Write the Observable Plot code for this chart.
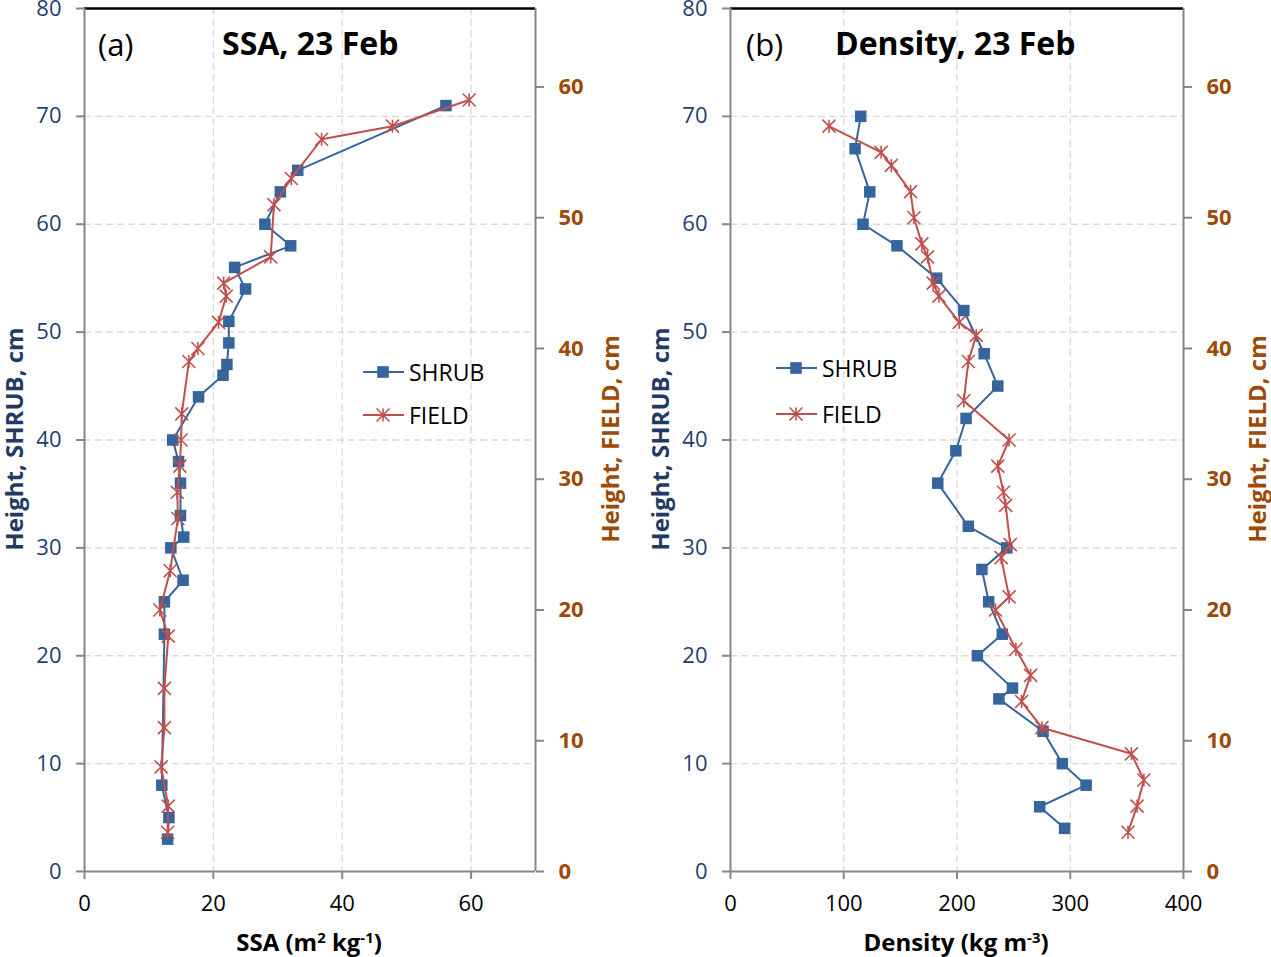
<!DOCTYPE html>
<html>
<head>
<meta charset="utf-8">
<script src="https://cdn.jsdelivr.net/npm/d3@7"></script>
<script src="https://cdn.jsdelivr.net/npm/@observablehq/plot@0.6"></script>
<style>
  body { margin: 0; background: #fff; font-family: "Open Sans", sans-serif; }
  #wrap { position: relative; width: 1271px; height: 957px; overflow: hidden; background: #fff; }
  .panel { position: absolute; top: 0; }
  .t { position: absolute; white-space: nowrap; line-height: 1; }
  .sup { font-size: 0.62em; position: relative; top: -0.55em; }
</style>
</head>
<body>
<div id="wrap"></div>
<script>
// ---------- data ----------
const yTicks = [0, 10, 20, 30, 40, 50, 60, 70, 80];
const fieldTicks = [0, 10, 20, 30, 40, 50, 60];
const xTicksA = [0, 20, 40, 60];
const xTicksB = [0, 100, 200, 300, 400];

// (a) SSA
const shrubA_h   = [3, 5, 8, 22, 25, 27, 30, 31, 33, 36, 38, 40, 44, 46, 47, 49, 51, 54, 56, 58, 60, 63, 65, 71];
const shrubA_ssa = [12.9, 13.1, 12.0, 12.4, 12.4, 15.3, 13.4, 15.4, 14.9, 14.9, 14.6, 13.7, 17.7, 21.5, 22.1, 22.4, 22.4, 25.0, 23.3, 32.0, 28.0, 30.4, 33.1, 56.1];
const fieldA_h   = [3, 5, 8, 11, 14, 18, 20, 23, 27, 29, 31, 33, 35, 39, 40, 42, 44, 45, 47, 51, 53, 56, 57, 59];
const fieldA_ssa = [12.9, 13.0, 11.9, 12.4, 12.4, 13.0, 11.7, 13.3, 14.5, 14.4, 14.8, 15.0, 15.1, 16.2, 17.6, 20.8, 22.0, 21.6, 28.9, 29.4, 32.1, 36.8, 47.8, 59.7];

// (b) Density
const shrubB_h   = [4, 6, 8, 10, 13, 16, 17, 20, 22, 25, 28, 30, 32, 36, 39, 42, 45, 48, 52, 55, 58, 60, 63, 67, 70];
const shrubB_den = [295, 273, 314, 293, 276, 237, 249, 218, 240, 228, 222, 244, 210, 183, 199, 208, 236, 224, 206, 182, 147, 117, 123, 110, 115];
const fieldB_h   = [3, 5, 7, 9, 11, 13, 15, 17, 20, 21, 24, 25, 28, 29, 31, 33, 36, 39, 41, 42, 44, 45, 47, 48, 50, 52, 54, 55, 57];
const fieldB_den = [351, 359, 365, 354, 275, 257, 265, 252, 234, 246, 239, 247, 243, 241, 236, 246, 206, 210, 217, 202, 184, 179, 174, 169, 162, 159, 142, 133, 87];

const SHRUB_MAX = 80, FIELD_MAX = 66;
const K = SHRUB_MAX / FIELD_MAX; // secondary axis mapping

// ---------- styles ----------
const BLUE = "#36649d";
const RED = "#c0504d";
const AXIS = "#868686";
const GRID = "#d9d9d9";
const LEFT_TXT = "#1f3f6f";
const RIGHT_TXT = "#9c4a06";

const asterisk = {
  draw(ctx, size) {
    const h = Math.sqrt(size / Math.PI);
    ctx.moveTo(-h, -h); ctx.lineTo(h, h);
    ctx.moveTo(-h, h); ctx.lineTo(h, -h);
    ctx.moveTo(0, -h); ctx.lineTo(0, h);
  }
};

function panel({xmax, xTicks, sh, sv, fh, fv, width, ml, mr}) {
  const shrub = sh.map((h, i) => ({h, v: sv[i]}));
  const field = fh.map((h, i) => ({h, v: fv[i]}));
  const gridStyle = {stroke: GRID, strokeOpacity: 1, strokeWidth: 1.3, strokeDasharray: "7,4"};
  return Plot.plot({
    width, height: 957,
    marginLeft: ml, marginRight: mr, marginTop: 8, marginBottom: 86,
    style: {fontFamily: "'Open Sans', sans-serif", background: "transparent", overflow: "visible"},
    x: {domain: [0, xmax]},
    y: {domain: [0, SHRUB_MAX]},
    marks: [
      Plot.gridX(xTicks.filter(t => t > 0 && t < xmax), gridStyle),
      Plot.gridY(yTicks.filter(t => t > 0 && t < SHRUB_MAX), gridStyle),
      Plot.ruleY([SHRUB_MAX], {stroke: "#000", strokeWidth: 2.5}),
      Plot.ruleX([0], {stroke: AXIS, strokeWidth: 2}),
      Plot.ruleX([xmax], {stroke: AXIS, strokeWidth: 2}),
      Plot.ruleY([0], {stroke: AXIS, strokeWidth: 2}),
      Plot.axisX(xTicks, {tickSize: 8, tickPadding: 16, stroke: AXIS, strokeWidth: 2, fill: "#000", fontSize: 22, label: null}),
      Plot.axisY(yTicks, {anchor: "left", tickSize: 8, tickPadding: 15, stroke: AXIS, strokeWidth: 2, fill: LEFT_TXT, fontSize: 22, label: null}),
      Plot.axisY(fieldTicks.map(t => t * K), {anchor: "right", tickSize: 8, tickPadding: 15, stroke: AXIS, strokeWidth: 2,
        fill: RIGHT_TXT, fontSize: 22, fontWeight: "bold", label: null, tickFormat: d => String(Math.round(d / K))}),
      Plot.line(shrub, {x: "v", y: "h", stroke: BLUE, strokeWidth: 2}),
      Plot.dot(shrub, {x: "v", y: "h", symbol: "square", r: 6.5, fill: BLUE, stroke: "none"}),
      Plot.line(field, {x: "v", y: d => d.h * K, stroke: RED, strokeWidth: 2}),
      Plot.dot(field, {x: "v", y: d => d.h * K, symbol: asterisk, r: 6.5, fill: "none", stroke: RED, strokeWidth: 1.6})
    ]
  });
}

const wrap = document.getElementById("wrap");

function place(el, left) {
  const d = document.createElement("div");
  d.className = "panel";
  d.style.left = left + "px";
  d.appendChild(el);
  wrap.appendChild(d);
}

place(panel({xmax: 70, xTicks: xTicksA, sh: shrubA_h, sv: shrubA_ssa, fh: fieldA_h, fv: fieldA_ssa, width: 635, ml: 84, mr: 100}), 0);
place(panel({xmax: 400, xTicks: xTicksB, sh: shrubB_h, sv: shrubB_den, fh: fieldB_h, fv: fieldB_den, width: 636, ml: 95, mr: 88}), 635);

// ---------- text overlays ----------
function text(html, {x, y, size = 22, weight = "normal", color = "#000", anchor = "left", rotate = false}) {
  const d = document.createElement("div");
  d.className = "t";
  d.innerHTML = html;
  d.style.left = x + "px";
  d.style.top = y + "px";
  d.style.fontSize = size + "px";
  d.style.fontWeight = weight;
  d.style.color = color;
  if (rotate) d.style.transform = "translate(-50%,-50%) rotate(-90deg)";
  else if (anchor === "middle") d.style.transform = "translate(-50%,-50%)";
  else d.style.transform = "translate(0,-50%)";
  wrap.appendChild(d);
}

const panelsText = [
  {tag: "(a)", tagX: 98, title: "SSA, 23 Feb", titleX: 222,
   xlabel: 'SSA (m<span class="sup">2</span> kg<span class="sup">-1</span>)', xlabelX: 309,
   leftX: 14, rightX: 610, legX: 363},
  {tag: "(b)", tagX: 746, title: "Density, 23 Feb", titleX: 835,
   xlabel: 'Density (kg m<span class="sup">-3</span>)', xlabelX: 956,
   leftX: 660, rightX: 1257, legX: 776}
];

const legendSeries = ["SHRUB", "FIELD"];
const legendY = [[372, 415], [368, 414]];

panelsText.forEach((p, k) => {
  text(p.tag, {x: p.tagX, y: 44, size: 31});
  text(p.title, {x: p.titleX, y: 43, size: 32, weight: "bold"});
  text(p.xlabel, {x: p.xlabelX, y: 942, size: 24, weight: "bold", anchor: "middle"});
  text("Height, SHRUB, cm", {x: p.leftX, y: 439, size: 24, weight: "bold", color: "#1f3a64", rotate: true});
  text("Height, FIELD, cm", {x: p.rightX, y: 439, size: 24, weight: "bold", color: RIGHT_TXT, rotate: true});

  legendSeries.forEach((name, j) => {
    const y = legendY[k][j];
    const sw = document.createElement("div");
    sw.style.position = "absolute";
    sw.style.left = p.legX + "px";
    sw.style.top = (y - 10) + "px";
    const marker = j === 0
      ? `<rect x="14.2" y="4.2" width="11.6" height="11.6" fill="${BLUE}"/>`
      : `<path d="M13.5,3.5L26.5,16.5M13.5,16.5L26.5,3.5M20,3.5L20,16.5" stroke="${RED}" stroke-width="1.6" fill="none"/>`;
    sw.innerHTML = `<svg width="41" height="20" style="display:block">
      <line x1="0" y1="10" x2="41" y2="10" stroke="${j === 0 ? BLUE : RED}" stroke-width="2"/>${marker}</svg>`;
    wrap.appendChild(sw);
    text(name, {x: p.legX + 46, y: y, size: 23});
  });
});
</script>
</body>
</html>
